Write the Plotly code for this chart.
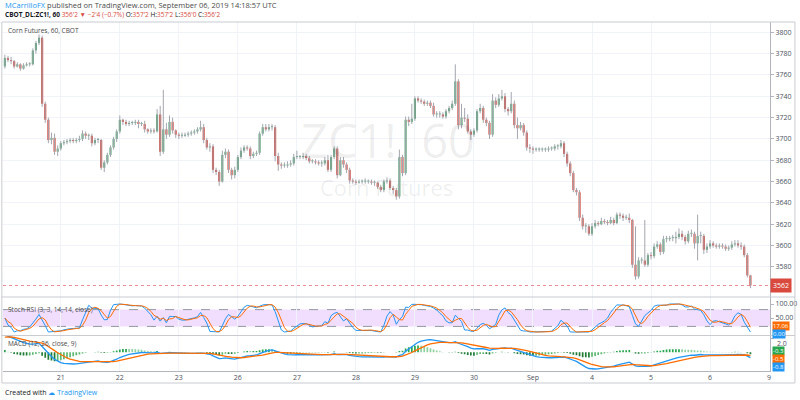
import numpy as np
import pandas as pd
import plotly.graph_objects as go

# ---------------- data (hourly bars, cents) ----------------
first_open = 376.8
closes = [
    377.6, 377.4, 377.3, 376.8, 377.0, 376.6, 376.9, 377.0, 377.0, 378.3, 379.0, 379.5, 373.3, 371.8, 369.9, 370.1, 368.8, 369.1,
    369.6, 369.7, 369.8, 369.9, 369.8, 369.9, 370.0, 370.5, 370.3, 370.3, 369.6, 369.9, 369.9, 367.3, 367.8, 368.5, 369.2, 370.0, 370.7,
    371.8, 371.6, 371.4, 371.5, 371.5, 371.6, 371.4, 371.4, 370.9, 370.7, 370.8, 370.7, 372.3, 368.8, 370.9, 370.4, 371.6, 370.8, 370.4,
    370.3, 370.3, 370.4, 370.5, 370.6, 370.7, 370.9, 371.1, 369.9, 369.2, 369.3, 367.1, 366.9, 366.0, 368.5, 368.8, 367.1, 366.6, 367.1,
    368.3, 368.9, 369.2, 369.1, 368.4, 368.6, 368.7, 370.5, 371.1, 370.9, 371.1, 371.1, 368.4, 367.6, 367.5, 367.5, 367.6, 367.7, 368.3,
    368.3, 368.3, 368.4, 368.2, 367.9, 367.9, 367.8, 367.7, 367.7, 368.0, 367.1, 368.3, 369.1, 366.6, 368.0, 367.6, 367.1, 366.1, 366.0,
    365.9, 366.0, 366.0, 366.0, 366.0, 365.9, 365.9, 365.5, 365.2, 366.0, 366.1, 365.4, 365.2, 364.6, 368.3, 366.8, 371.8, 371.6, 371.9,
    373.8, 373.6, 373.5, 373.3, 373.4, 373.1, 372.3, 372.3, 372.3, 372.1, 372.6, 372.9, 373.3, 375.4, 371.3, 372.0, 371.9, 370.7, 370.4,
    370.8, 372.6, 372.9, 371.8, 371.5, 370.4, 373.6, 373.2, 373.8, 374.0, 372.8, 372.6, 373.3, 371.3, 371.0, 371.3, 370.6, 369.2, 369.1,
    369.0, 369.0, 369.0, 369.0, 369.0, 369.1, 369.1, 369.3, 369.3, 369.6, 368.6, 367.7, 366.8, 365.2, 365.0, 362.6, 361.8, 361.8, 361.1,
    361.8, 362.1, 362.0, 362.3, 362.2, 362.1, 362.4, 362.1, 362.9, 362.8, 362.6, 362.6, 362.4, 358.2, 357.1, 358.6, 358.6, 358.2, 359.1,
    359.0, 359.9, 360.1, 359.4, 360.6, 360.6, 360.7, 360.7, 360.8, 361.1, 360.8, 360.4, 361.1, 361.1, 360.2, 360.9, 360.9, 359.6, 359.9,
    360.2, 360.0, 359.9, 360.0, 359.9, 359.7, 359.8, 360.1, 360.2, 360.0, 359.9, 359.1, 357.2, 356.25,
]
highs = [
    377.9, 377.8, 377.7, 377.4, 377.2, 377.1, 377.1, 377.2, 377.2, 378.5, 379.2, 379.8, 379.7, 373.5, 372.0, 370.6, 370.5, 369.4,
    369.8, 369.9, 370.0, 370.1, 370.1, 370.1, 370.3, 370.8, 370.7, 370.5, 370.5, 370.1, 370.1, 370.0, 368.0, 368.7, 369.4, 370.2, 370.9,
    372.2, 371.9, 371.8, 371.7, 371.7, 371.8, 371.8, 371.6, 371.7, 371.0, 371.0, 371.0, 372.8, 373.1, 374.6, 371.5, 372.2, 372.0, 370.9,
    370.6, 370.6, 370.6, 370.7, 370.8, 370.9, 371.1, 371.7, 371.4, 370.1, 369.6, 369.5, 367.3, 367.1, 368.9, 369.1, 369.0, 367.3, 367.4,
    368.5, 369.2, 369.4, 369.4, 369.3, 368.8, 368.9, 370.7, 371.4, 371.4, 371.4, 371.4, 371.3, 368.7, 367.8, 367.8, 367.9, 368.0, 368.6,
    368.9, 368.5, 368.7, 368.6, 368.4, 368.1, 368.1, 368.0, 368.0, 368.3, 368.5, 368.5, 369.3, 369.3, 368.3, 368.3, 367.8, 367.3, 366.3,
    366.2, 366.2, 366.2, 366.3, 366.2, 366.2, 366.1, 366.0, 365.7, 366.2, 366.4, 366.3, 365.6, 365.4, 369.0, 368.5, 372.1, 372.1, 373.3,
    374.0, 374.0, 373.8, 373.7, 373.6, 373.6, 373.4, 372.6, 372.6, 372.5, 372.8, 373.1, 373.6, 377.0, 375.6, 373.3, 372.9, 372.3, 370.9,
    371.0, 372.8, 373.3, 373.1, 372.0, 371.7, 374.2, 373.9, 374.2, 374.6, 374.3, 373.0, 374.4, 373.6, 372.0, 371.6, 371.5, 370.8, 369.5,
    369.3, 369.2, 369.2, 369.2, 369.2, 369.3, 369.3, 369.5, 369.5, 369.9, 369.8, 368.8, 367.9, 367.0, 365.4, 365.2, 362.9, 362.1, 362.0,
    362.1, 362.4, 362.3, 362.6, 362.5, 362.4, 362.7, 362.6, 363.1, 363.1, 363.0, 362.9, 363.0, 362.5, 361.8, 358.9, 358.9, 362.4, 359.3,
    359.4, 360.2, 360.4, 360.3, 360.9, 360.9, 360.9, 361.0, 361.3, 361.6, 361.4, 361.0, 361.4, 361.5, 361.3, 362.9, 361.3, 361.1, 360.2,
    360.5, 360.4, 360.2, 360.2, 360.2, 360.1, 360.0, 360.4, 360.5, 360.5, 360.3, 360.1, 359.3, 357.25,
]
lows = [
    376.6, 377.2, 377.0, 376.6, 376.7, 376.4, 376.5, 376.8, 376.8, 376.9, 378.0, 378.8, 373.0, 371.5, 369.6, 369.5, 368.5, 368.4,
    368.9, 369.4, 369.5, 369.6, 369.6, 369.6, 369.7, 369.8, 370.0, 369.9, 369.3, 369.4, 369.6, 367.1, 366.9, 367.6, 368.3, 369.0, 369.7,
    370.5, 371.3, 371.2, 371.2, 371.3, 371.3, 371.0, 371.2, 370.6, 370.5, 370.5, 370.5, 370.6, 368.4, 368.6, 370.0, 370.2, 370.5, 370.1,
    370.0, 370.1, 370.2, 370.2, 370.3, 370.4, 370.5, 370.7, 369.6, 369.0, 368.8, 366.8, 366.6, 365.6, 365.9, 368.2, 366.8, 366.2, 366.3,
    366.9, 368.1, 368.7, 368.9, 368.1, 368.2, 368.4, 368.5, 370.3, 370.7, 370.7, 370.8, 367.9, 367.0, 367.2, 367.3, 367.3, 367.4, 367.5,
    368.1, 368.1, 368.1, 368.0, 367.7, 367.7, 367.6, 367.5, 367.4, 367.5, 366.9, 366.9, 368.1, 366.3, 366.5, 367.3, 366.8, 365.8, 365.8,
    365.7, 365.8, 365.8, 365.8, 365.8, 365.7, 365.6, 365.3, 365.0, 365.0, 365.8, 365.2, 364.8, 364.3, 364.4, 366.5, 366.6, 371.2, 371.4,
    371.7, 373.4, 373.3, 373.1, 373.1, 372.9, 372.1, 372.0, 372.0, 371.9, 371.9, 372.4, 372.7, 373.1, 370.9, 371.0, 371.6, 370.5, 369.9,
    370.2, 370.6, 372.4, 371.5, 371.2, 370.0, 370.2, 372.9, 373.0, 373.6, 372.5, 372.2, 372.4, 371.0, 370.0, 370.8, 370.3, 368.9, 368.7,
    368.6, 368.8, 368.8, 368.8, 368.8, 368.8, 368.9, 368.9, 369.0, 369.1, 368.3, 367.4, 366.5, 365.0, 364.7, 362.3, 361.5, 361.2, 360.9,
    360.9, 361.6, 361.8, 361.9, 362.0, 361.9, 362.0, 361.9, 362.0, 362.5, 362.3, 362.4, 362.1, 357.9, 356.8, 356.9, 358.3, 358.0, 358.0,
    358.7, 358.8, 359.7, 359.1, 359.2, 360.3, 360.4, 360.4, 360.2, 360.6, 360.5, 360.1, 360.2, 360.8, 359.7, 358.6, 360.2, 359.2, 359.3,
    359.7, 359.8, 359.7, 359.7, 359.7, 359.5, 359.5, 359.6, 359.9, 359.8, 359.6, 358.9, 357.0, 356.0,
]
day_tick_index = [18, 37, 56, 75, 94, 113, 132, 151, 170, 189, 208, 227, 246]
day_tick_labels = ["21", "22", "23", "26", "27", "28", "29", "30", "Sep", "4", "5", "6", "9"]
price_ticks = [358, 360, 362, 364, 366, 368, 370, 372, 374, 376, 378, 380]
price_tick_labels = ["3580", "3600", "3620", "3640", "3660", "3680", "3700", "3720", "3740", "3760", "3780", "3800"]
stoch_ticks = [50, 100]
stoch_tick_labels = ["50.00", "100.00"]
macd_tick_label = "2.0"
ema12_seed, ema26_seed, signal_seed = 377.6, 374.9, 2.1

# ---------------- derived series ----------------
n = len(closes)
idx = np.arange(n)
c = np.array(closes, dtype=float)
o = np.array([first_open] + closes[:-1], dtype=float)
h = np.array(highs, dtype=float)
l = np.array(lows, dtype=float)

# Stoch RSI (3, 3, 14, 14)
s = pd.Series(c)
d = s.diff().fillna(c[0] - first_open)
gain = d.clip(lower=0).ewm(alpha=1 / 14, adjust=True).mean()
loss = (-d).clip(lower=0).ewm(alpha=1 / 14, adjust=True).mean()
rsi = 100 - 100 / (1 + gain / loss.replace(0, np.nan))
rsi = rsi.fillna(100)
rmin = rsi.rolling(14, min_periods=1).min()
rmax = rsi.rolling(14, min_periods=1).max()
stoch = ((rsi - rmin) / (rmax - rmin).replace(0, np.nan) * 100).fillna(50)
k = stoch.rolling(3, min_periods=1).mean()
dline = k.rolling(3, min_periods=1).mean()

# MACD (12, 26, 9)
e12, e26, sg = ema12_seed, ema26_seed, signal_seed
macd, signal = [], []
for v in c:
    e12 += 2 / 13 * (v - e12)
    e26 += 2 / 27 * (v - e26)
    m = e12 - e26
    sg += 2 / 10 * (m - sg)
    macd.append(m)
    signal.append(sg)
macd = np.array(macd)
signal = np.array(signal)
hist = macd - signal

UP, DOWN, WICK = "#55a574", "#d9493d", "#a3a6af"
BLUE, ORANGE, HGREEN = "#2196f3", "#ff6d00", "#26a64d"
GRID = "#f0f3fa"
AX = "#b2b5be"
TXT = "#4c525e"
FONT = "Open Sans"

fig = go.Figure()

# wicks
wx, wy = [], []
for i in range(n):
    wx += [i, i, None]
    wy += [l[i], h[i], None]
fig.add_trace(go.Scatter(x=wx, y=wy, mode="lines", line=dict(color=WICK, width=1),
                         xaxis="x", yaxis="y", hoverinfo="skip", showlegend=False))
# bodies
base = np.minimum(o, c)
height = np.maximum(np.abs(c - o), 0.09)
colors = [UP if c[i] >= o[i] else DOWN for i in range(n)]
fig.add_trace(go.Bar(x=idx, y=height, base=base, width=0.68, marker=dict(color=colors, line=dict(width=0)),
                     xaxis="x", yaxis="y", showlegend=False))

# Stoch RSI
fig.add_trace(go.Scatter(x=idx, y=k, mode="lines", line=dict(color=BLUE, width=1),
                         xaxis="x2", yaxis="y2", showlegend=False))
fig.add_trace(go.Scatter(x=idx, y=dline, mode="lines", line=dict(color=ORANGE, width=1),
                         xaxis="x2", yaxis="y2", showlegend=False))

# MACD
hcol = []
for i in range(n):
    prev = hist[i - 1] if i > 0 else hist[i]
    if hist[i] >= 0:
        hcol.append("#26a64d" if hist[i] >= prev else "#8fd19e")
    else:
        hcol.append("#1e7b34" if hist[i] <= prev else "#5cb86e")
fig.add_trace(go.Bar(x=idx, y=hist, width=0.55, marker=dict(color=hcol, line=dict(width=0)),
                     xaxis="x3", yaxis="y3", showlegend=False))
fig.add_trace(go.Scatter(x=idx, y=macd, mode="lines", line=dict(color=BLUE, width=1.3),
                         xaxis="x3", yaxis="y3", showlegend=False))
fig.add_trace(go.Scatter(x=idx, y=signal, mode="lines", line=dict(color=ORANGE, width=1.3),
                         xaxis="x3", yaxis="y3", showlegend=False))

xr = [-0.6, 246.3]
xcommon = dict(range=xr, showgrid=True, gridcolor=GRID, gridwidth=1, zeroline=False,
               tickvals=day_tick_index, ticktext=day_tick_labels, fixedrange=True)
ycommon = dict(side="right", showgrid=True, gridcolor=GRID, zeroline=False, ticks="outside",
               ticklen=3, tickcolor=AX, showline=True, linecolor=AX, linewidth=1,
               tickfont=dict(size=7, color=TXT, family=FONT), fixedrange=True)

fig.update_layout(
    width=800, height=400,
    margin=dict(l=3, r=27, t=22, b=29),
    paper_bgcolor="white", plot_bgcolor="white",
    showlegend=False, barmode="overlay",
    font=dict(family=FONT, size=7, color=TXT),
    xaxis=dict(xcommon, anchor="y", showticklabels=False, matches="x3"),
    xaxis2=dict(xcommon, anchor="y2", showticklabels=False, matches="x3"),
    xaxis3=dict(xcommon, anchor="y3", showticklabels=True, showline=True, linecolor=AX,
                tickfont=dict(size=7, color=TXT, family=FONT), ticks=""),
    yaxis=dict(ycommon, domain=[0.212, 1], range=[355.17, 380.97], anchor="x",
               tickvals=price_ticks, ticktext=price_tick_labels),
    yaxis2=dict(ycommon, domain=[0.1017, 0.212], range=[-12.5, 125], anchor="x2",
                tickvals=stoch_ticks, ticktext=stoch_tick_labels, showgrid=False),
    yaxis3=dict(ycommon, domain=[0, 0.1017], range=[-2.67, 2.4], anchor="x3",
                tickvals=[2.0], ticktext=[""], showgrid=False),
)

shapes = [
    # stoch band
    dict(type="rect", xref="x2 domain", yref="y2", x0=0, x1=1, y0=20, y1=80,
         fillcolor="rgba(153,21,255,0.14)", line=dict(width=0), layer="below"),
    dict(type="line", xref="x2 domain", yref="y2", x0=0, x1=1, y0=80, y1=80,
         line=dict(color="#9598a1", width=1, dash="dash"), layer="below"),
    dict(type="line", xref="x2 domain", yref="y2", x0=0, x1=1, y0=20, y1=20,
         line=dict(color="#9598a1", width=1, dash="dash"), layer="below"),
    # last price line
    dict(type="line", xref="x domain", yref="y", x0=0, x1=1, y0=c[-1], y1=c[-1],
         line=dict(color="rgba(235,77,92,0.65)", width=1, dash="dot")),
    # pane separators
    dict(type="line", xref="paper", yref="paper", x0=-0.002, x1=1.0325, y0=0.212, y1=0.212,
         line=dict(color="#c9cbd1", width=1)),
    dict(type="line", xref="paper", yref="paper", x0=-0.002, x1=1.0325, y0=0.1017, y1=0.1017,
         line=dict(color="#c9cbd1", width=1)),
    # outer frame
    dict(type="rect", xref="paper", yref="paper", x0=-0.0015, x1=1.0325, y0=-0.0344, y1=1.0,
         line=dict(color="#c9cbd1", width=1), fillcolor="rgba(0,0,0,0)"),
]
fig.update_layout(shapes=shapes)


def eighths(p):
    w = int(np.floor(p + 1e-9))
    return f"{w}'{int(round((p - w) * 8))}"


def value_label(yp, text, bg):
    return dict(xref="paper", yref="paper", x=1.002, y=yp, xanchor="left", yanchor="middle", showarrow=False,
                text=text, bgcolor=bg, borderpad=0, font=dict(size=6, color="white", family=FONT))


red = DOWN
ann = [
    dict(xref="paper", yref="paper", x=0.0, y=1.0487, xanchor="left", yanchor="middle", showarrow=False,
         text="<span style='color:#2196f3'>MCarrilloFX</span> published on TradingView.com, September 06, 2019 14:18:57 UTC",
         font=dict(size=7.5, color="#4a4a4a", family=FONT)),
    dict(xref="paper", yref="paper", x=0.0, y=1.0229, xanchor="left", yanchor="middle", showarrow=False,
         text=(f"<b>CBOT_DL:ZC1!, 60</b> <span style='color:{red}'>{eighths(c[-1])} ▼ −2'4 (−0.7%)</span> "
               f"O:<span style='color:{red}'>{eighths(o[-1])}</span> H:<span style='color:{red}'>{eighths(h[-1])}</span> "
               f"L:<span style='color:{red}'>{eighths(l[-1])}</span> C:<span style='color:{red}'>{eighths(c[-1])}</span>"),
         font=dict(size=6.5, color="#131722", family=FONT)),
    dict(xref="paper", yref="paper", x=0.004, y=0.977, xanchor="left", yanchor="middle", showarrow=False,
         text="Corn Futures, 60, CBOT", font=dict(size=6.5, color="#4a4a4a", family=FONT)),
    dict(xref="paper", yref="paper", x=0.004, y=0.1748, xanchor="left", yanchor="middle", showarrow=False,
         text="Stoch RSI (3, 3, 14, 14, close)", font=dict(size=6.5, color="#4a4a4a", family=FONT)),
    dict(xref="paper", yref="paper", x=0.004, y=0.0802, xanchor="left", yanchor="middle", showarrow=False,
         text="MACD (12, 26, close, 9)", font=dict(size=6.5, color="#4a4a4a", family=FONT)),
    dict(xref="paper", yref="paper", x=0.5026, y=0.662, xanchor="center", yanchor="middle", showarrow=False,
         text="ZC1!  60", font=dict(size=47, color="rgba(0,0,0,0.08)", family=FONT)),
    dict(xref="paper", yref="paper", x=0.5, y=0.527, xanchor="center", yanchor="middle", showarrow=False,
         text="Corn Futures", font=dict(size=22, color="rgba(0,0,0,0.08)", family=FONT)),
    dict(xref="paper", yref="paper", x=0.0, y=-0.0602, xanchor="left", yanchor="middle", showarrow=False,
         text="Created with <span style='color:#2196f3'>☁ TradingView</span>",
         font=dict(size=7, color="#131722", family=FONT)),
    # MACD axis label (top tick)
    dict(xref="paper", yref="y3", x=1.0, y=2.0, xanchor="left", yanchor="middle", showarrow=False,
         xshift=5, yshift=-5, text=macd_tick_label, font=dict(size=7, color=TXT, family=FONT)),
    # last price label
    dict(xref="paper", yref="y", x=1.0, y=c[-1], xanchor="left", yanchor="middle", showarrow=False,
         text=f"{eighths(c[-1]).replace(chr(39), '')}", bgcolor=DOWN, borderpad=2,
         font=dict(size=7, color="white", family=FONT)),
]

# stacked last-value labels (stacked by value, highest on top)
stoch_slots = [0.1289, 0.1074]
st = sorted([(float(dline.iloc[-1]), ORANGE), (float(k.iloc[-1]), BLUE)], key=lambda t: -t[0])
for slot, (v, col) in zip(stoch_slots, st):
    ann.append(value_label(slot, f"{v:.2f}", col))
macd_slots = [0.0573, 0.0344, 0.0115]
mt = sorted([(float(hist[-1]), HGREEN), (float(signal[-1]), ORANGE), (float(macd[-1]), BLUE)], key=lambda t: -t[0])
for slot, (v, col) in zip(macd_slots, mt):
    ann.append(value_label(slot, f"{v:.1f}", col))

fig.update_layout(annotations=ann)

fig.write_html("out.html", config={"displayModeBar": False, "staticPlot": True},
               post_script="document.body.style.margin='0';document.body.style.overflow='hidden';")
